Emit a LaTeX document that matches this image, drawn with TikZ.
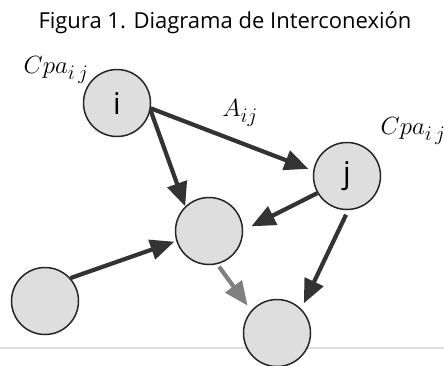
\documentclass[tikz,border=0pt]{standalone}
\usepackage{fontspec}
\setmainfont{Open Sans}
\usetikzlibrary{arrows.meta}
\tikzset{
  vert/.style={circle, draw=black!85, line width=1.5pt, fill=black!13, minimum size=67pt, inner sep=0pt,
    font=\fontsize{30}{34}\selectfont},
  arr/.style={line width=4.2pt, draw=black!80, -{Triangle[length=24pt,width=20pt]}},
  garr/.style={arr, draw=black!50},
  lbl/.style={font=\fontsize{30}{34}\selectfont, inner sep=0pt}
}
\begin{document}
\begin{tikzpicture}[x=1pt,y=-1pt]
\useasboundingbox (0,0) rectangle (444,365);
\fill[white] (0,0) rectangle (444,365);
\node[font=\fontsize{22}{26}\selectfont, inner sep=0pt] (title) at (225,23) {Figura 1. Diagrama de Interconexión};
\coordinate (hl) at (0,348);
\coordinate (hr) at (444,348);
\draw[black!12, line width=1.5pt] (hl) -- (hr);
\node[vert] (i) at (117,103) {i};
\node[vert] (j) at (347,176) {j};
\node[vert] (mid) at (209,231) {};
\node[vert] (left) at (45,301) {};
\node[vert] (bot) at (277,333) {};
\node[lbl] (cpai) at (56,70) {$Cpa_{i\,j}$};
\node[lbl] (cpaj) at (413,131) {$Cpa_{i\,j}$};
\node[lbl] (aij) at (240,113) {$A_{ij}$};
\draw[arr] (i.-12) -- (mid.134);
\draw[arr, shorten >=5pt] (i.-9) -- (j.171);
\draw[arr, shorten >=9pt] (j.210) -- (mid.1);
\draw[arr, shorten >=2pt] (left.42) -- (mid.197);
\draw[garr, shorten <=3pt, shorten >=6pt] (mid.-76) -- (bot.139);
\draw[arr, shorten <=5pt, shorten >=6pt] (j.-88) -- (bot.45);
\end{tikzpicture}
\end{document}
